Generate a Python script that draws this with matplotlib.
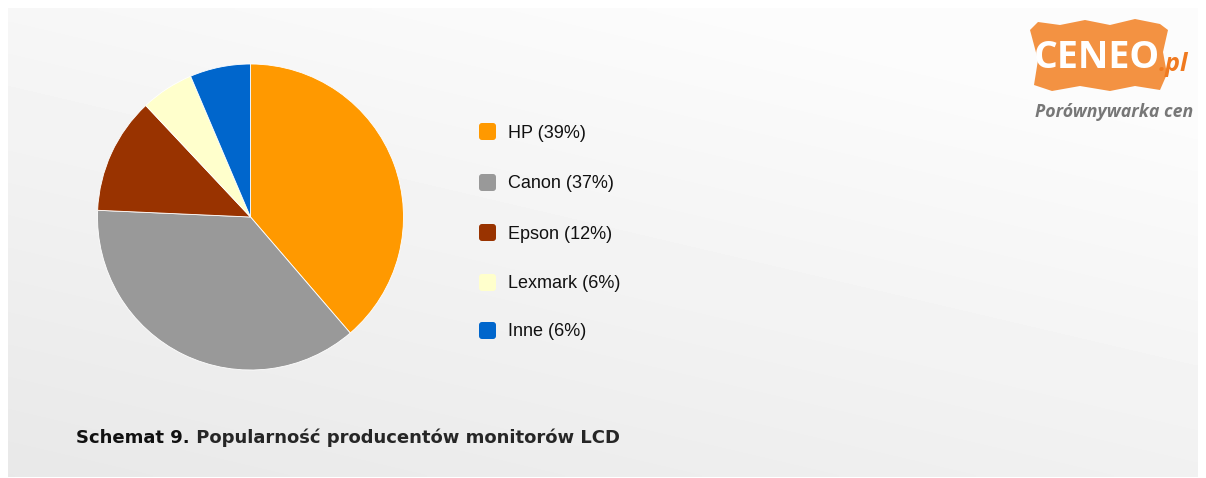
import numpy as np
import matplotlib
matplotlib.use("Agg")
import matplotlib.pyplot as plt
from matplotlib.patches import FancyBboxPatch, Polygon

labels = ["HP", "Canon", "Epson", "Lexmark", "Inne"]
values = [38.7, 37.0, 12.3, 5.6, 6.4]
pct_labels = ["39%", "37%", "12%", "6%", "6%"]
colors = ["#FF9900", "#999999", "#993300", "#FFFFCC", "#0066CC"]
title_bold = "Schemat 9."
title_rest = " Popularność producentów monitorów LCD"

W, H = 1206, 478
fig = plt.figure(figsize=(W / 100, H / 100), dpi=100)
fig.patch.set_facecolor("white")

# background overlay axes in pixel coords
bg = fig.add_axes([0, 0, 1, 1])
bg.set_xlim(0, W)
bg.set_ylim(H, 0)
bg.axis("off")
nx, ny = 300, 120
xx, yy = np.meshgrid(np.linspace(0, 1, nx), np.linspace(0, 1, ny))
t = np.clip(0.75 * yy + 0.45 * (1 - xx) - 0.2, 0, 1)
grad = 0.985 - 0.075 * t
bg.imshow(grad, cmap="gray", vmin=0, vmax=1, extent=[8, 1198, 477, 8],
          aspect="auto", interpolation="bilinear", zorder=0)

# pie
cx, cy, r = 250.5, 217, 153
ax = fig.add_axes([(cx - r) / W, (H - cy - r) / H, 2 * r / W, 2 * r / H])
ax.pie(values, colors=colors, startangle=90, counterclock=False,
       wedgeprops=dict(edgecolor="white", linewidth=0.6), radius=1.0)
ax.set_xlim(-1, 1)
ax.set_ylim(-1, 1)
ax.set_aspect("equal")
ax.axis("off")

# legend
ys = [131, 182, 232, 282, 330]
for lab, pct, col, y in zip(labels, pct_labels, colors, ys):
    bg.add_patch(FancyBboxPatch((479, y - 8), 17, 17,
                                boxstyle="round,pad=0,rounding_size=3",
                                facecolor=col, edgecolor="none", zorder=3))
    bg.text(508, y + 2, f"{lab} ({pct})", fontsize=13, family="Liberation Sans",
            va="center", ha="left", color="#111111", zorder=3)

# title
t1 = bg.text(76, 438, title_bold, fontsize=13, fontweight="bold",
             family="DejaVu Sans", va="center", ha="left", color="#111111")
fig.canvas.draw()
bb = t1.get_window_extent()
bg.text(bb.x1, 438, title_rest, fontsize=13, fontweight="bold",
        family="DejaVu Sans", va="center", ha="left", color="#262626")

# logo
tag = Polygon([(1030, 30), (1038, 22), (1060, 25), (1085, 20), (1110, 25),
               (1135, 19), (1160, 24), (1168, 30), (1163, 52), (1167, 74),
               (1160, 90), (1135, 86), (1110, 91), (1080, 86), (1052, 91),
               (1034, 85), (1038, 60)], closed=True,
              facecolor="#F39242", edgecolor="none", zorder=2)
bg.add_patch(tag)
bg.text(1034, 58, "CENEO", fontsize=27, fontweight="bold", family="Open Sans",
        color="white", va="center", ha="left", zorder=3)
bg.text(1159, 64, ".pl", fontsize=18, fontstyle="italic", fontweight="bold",
        family="Open Sans", color="#F07A20", va="center", ha="left", zorder=3)
bg.text(1035, 112, "Porównywarka cen", fontsize=12.8, fontstyle="italic",
        fontweight="bold", family="Open Sans", color="#777777",
        va="center", ha="left", zorder=3)

fig.savefig("out.png", dpi=100, facecolor="white")
